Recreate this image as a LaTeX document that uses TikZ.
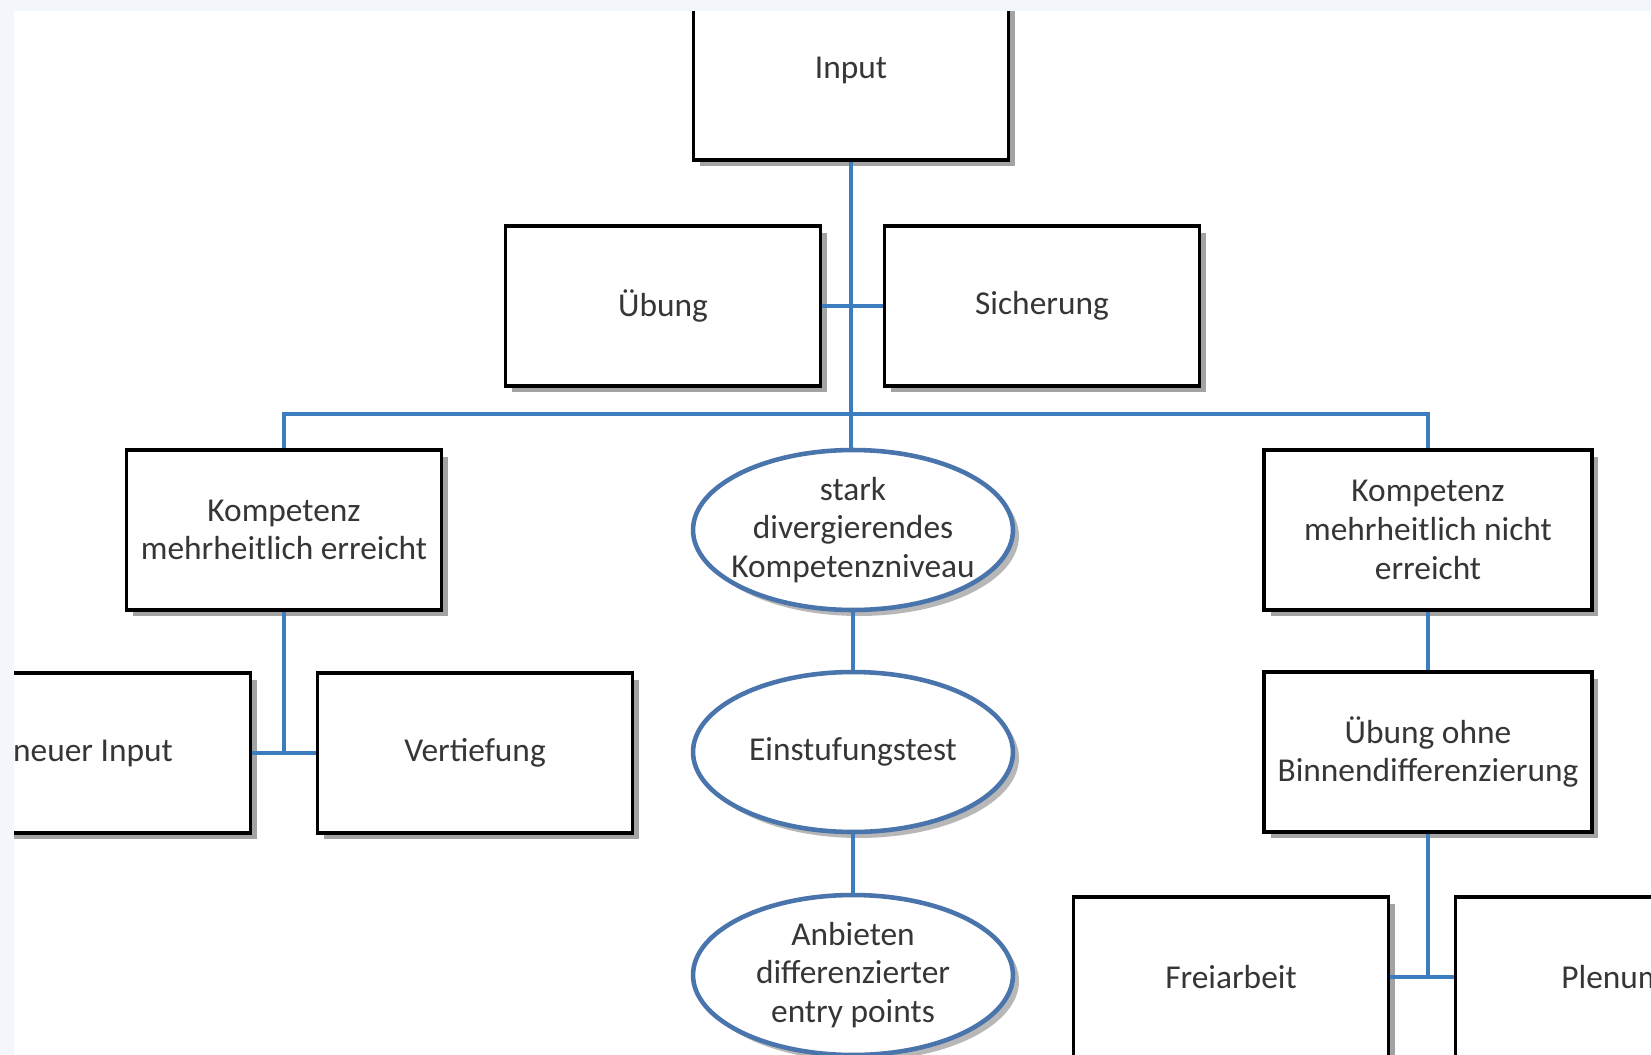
\documentclass[tikz,border=0pt]{standalone}
\usepackage{fontspec}
\setmainfont{Carlito}
\usetikzlibrary{shapes.geometric,shadows}

\definecolor{linkblue}{HTML}{3C7DC0}
\definecolor{ovalblue}{HTML}{4A74AC}
\definecolor{txtgray}{HTML}{363636}
\definecolor{edgetint}{HTML}{F3F6FB}

\tikzset{
  stepbox/.style={draw=black, line width=2.2pt, fill=white,
    minimum width=6.3cm, minimum height=3.2cm, align=center,
    text=txtgray, font=\fontsize{19}{22}\selectfont,
    drop shadow={shadow xshift=0.13cm, shadow yshift=-0.13cm,
      fill=black!40, opacity=0.9}},
  widebox/.style={stepbox, minimum width=6.56cm},
  oval/.style={ellipse, draw=ovalblue, line width=2.6pt, fill=white,
    minimum width=6.4cm, minimum height=3.2cm,
    inner xsep=-0.9cm, inner ysep=-0.6cm,
    align=center, text=txtgray, font=\fontsize{19}{22}\selectfont,
    drop shadow={shadow xshift=0.12cm, shadow yshift=-0.12cm,
      fill=black!35, opacity=0.8}},
  link/.style={draw=linkblue, line width=2.2pt}
}

\begin{document}
\begin{tikzpicture}[x=0.02cm, y=-0.02cm]

  \useasboundingbox (0,0) rectangle (1651,1055);
  \fill[white] (0,0) rectangle (1651,1055);
  \clip (0,0) rectangle (1651,1055);

  % Stufe 1
  \node[stepbox, minimum height=3.6cm] (input) at (851,70) {Input};
  \node[stepbox] (uebung) at (663,306) {Übung};
  \node[stepbox] (sicherung) at (1042,306) {Sicherung};

  % Stufe 2
  \node[stepbox] (kompA) at (284,530) {Kompetenz\\mehrheitlich erreicht};
  \node[oval] (ovalA) at (853,530) {stark\\divergierendes\\Kompetenzniveau};
  \node[widebox] (kompB) at (1428,530) {Kompetenz\\mehrheitlich nicht\\erreicht};

  % Stufe 3
  \node[stepbox] (neu) at (93,753) {neuer Input};
  \node[stepbox] (vertiefung) at (475,753) {Vertiefung};
  \node[oval] (ovalB) at (853,752) {Einstufungstest};
  \node[widebox] (uebohne) at (1428,752) {Übung ohne\\Binnendifferenzierung};

  % Stufe 4
  \node[oval] (ovalC) at (853,975) {Anbieten\\differenzierter\\entry points};
  \node[stepbox] (frei) at (1231,977) {Freiarbeit};
  \node[stepbox] (plenum) at (1613,977) {Plenum};

  % Verbindungen
  \draw[link] (input.south) -- (input.south |- ovalA.north);
  \draw[link] (uebung.east) -- (sicherung.west);
  \draw[link] (kompA.north) -- ++(0,-34) -| (kompB.north);
  \draw[link] (ovalA.south) -- (ovalB.north);
  \draw[link] (ovalB.south) -- (ovalC.north);
  \draw[link] (kompA.south) -- (kompA.south |- neu.east);
  \draw[link] (neu.east) -- (vertiefung.west);
  \draw[link] (kompB.south) -- (uebohne.north);
  \draw[link] (uebohne.south) -- (uebohne.south |- frei.east);
  \draw[link] (frei.east) -- (plenum.west);

  % Bildrand
  \fill[edgetint] (0,0) rectangle (1651,11);
  \fill[edgetint] (0,0) rectangle (14,1055);

\end{tikzpicture}
\end{document}
